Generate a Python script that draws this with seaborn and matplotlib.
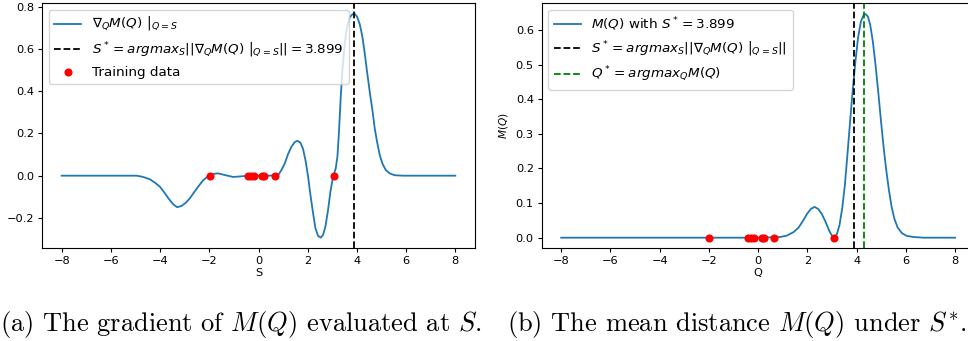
import matplotlib
matplotlib.use("Agg")
import matplotlib.pyplot as plt
import seaborn as sns

# ---- data ----
grad_x = [-8.0, -6.0, -4.955, -4.687, -4.415, -4.212, -4.009, -3.806, -3.630, -3.468,
          -3.306, -3.128, -2.953, -2.790, -2.628, -2.452, -2.275, -2.112, -1.909, -1.64,
          -1.369, -1.03, -0.69, -0.353, 0.4, 0.797, 0.933, 1.068, 1.204, 1.339, 1.474,
          1.583, 1.705, 1.813, 1.921, 2.016, 2.111, 2.219, 2.314, 2.422, 2.530, 2.625,
          2.720, 2.828, 2.923, 3.031, 3.140, 3.208, 3.275, 3.343, 3.411, 3.505, 3.600,
          3.708, 3.817, 3.911, 4.006, 4.115, 4.223, 4.318, 4.412, 4.521, 4.629, 4.724,
          4.818, 4.927, 5.035, 5.171, 5.333, 5.536, 5.87, 8.0]
grad_y = [0.0, 0.0, 0.0, -0.006, -0.017, -0.033, -0.052, -0.083, -0.112, -0.135,
          -0.149, -0.143, -0.128, -0.107, -0.080, -0.052, -0.025, -0.008, 0.007, 0.011,
          0.003, -0.006, -0.003, 0.0, 0.0, 0.002, 0.027, 0.058, 0.103, 0.137, 0.159,
          0.165, 0.156, 0.126, 0.066, -0.005, -0.091, -0.178, -0.249, -0.285, -0.293, -0.280,
          -0.241, -0.162, -0.076, -0.005, 0.035, 0.090, 0.216, 0.374, 0.500, 0.626, 0.705,
          0.749, 0.763, 0.765, 0.752, 0.717, 0.657, 0.579, 0.492, 0.397, 0.311, 0.224,
          0.161, 0.098, 0.058, 0.027, 0.011, 0.002, 0.0, 0.0]

m_x = [-8.0, -4.0, 0.0, 0.894, 1.165, 1.435, 1.638, 1.814, 1.977, 2.139, 2.288, 2.437,
       2.586, 2.735, 2.884, 2.992, 3.087, 3.195, 3.303, 3.412, 3.520, 3.628, 3.737,
       3.845, 3.953, 4.062, 4.170, 4.278, 4.359, 4.454, 4.549, 4.657, 4.765, 4.874,
       4.982, 5.091, 5.199, 5.307, 5.416, 5.524, 5.659, 5.835, 6.038, 6.309, 6.71, 8.0]
m_y = [0.0, 0.0, 0.0, 0.002, 0.006, 0.016, 0.029, 0.048, 0.068, 0.083, 0.089, 0.083,
       0.068, 0.046, 0.020, 0.006, 0.001, 0.010, 0.037, 0.085, 0.152, 0.244, 0.340,
       0.432, 0.513, 0.581, 0.624, 0.643, 0.646, 0.639, 0.615, 0.566, 0.499, 0.422,
       0.340, 0.263, 0.196, 0.138, 0.090, 0.056, 0.030, 0.013, 0.005, 0.002, 0.0, 0.0]

train_x = [-1.98, -0.42, -0.30, -0.17, 0.15, 0.23, 0.66, 3.06]
train_y = [0.0, 0.0, 0.0, 0.0, 0.0, 0.0, 0.0, 0.0]

s_star = 3.899
q_star = 4.31

x_ticks = [-8, -6, -4, -2, 0, 2, 4, 6, 8]

# ---- figure ----
W, H = 968, 341
fig = plt.figure(figsize=(W / 100, H / 100), dpi=100)

bottom = (H - 248) / H
height = (248 - 3) / H
ax1 = fig.add_axes([42 / W, bottom, 433 / W, height])
ax2 = fig.add_axes([541.5 / W, bottom, 433.4 / W, height])

tick_fs = 8.2
leg_fs = 9.7
blue = "#1f77b4"
dot_s = 34

# left panel
sns.lineplot(x=grad_x, y=grad_y, ax=ax1, color=blue, linewidth=1.3, estimator=None,
             label=r"$\left.\nabla_Q M(Q)\ \right|_{Q=S}$")
ax1.axvline(s_star, color="black", linestyle="--", linewidth=1.3,
            label=r"$S^* = argmax_S||\left.\nabla_Q M(Q)\ \right|_{Q=S}|| = 3.899$")
sns.scatterplot(x=train_x, y=train_y, ax=ax1, color="red", s=dot_s, linewidth=0,
                label="Training data", zorder=3)
ax1.set_xlim(-8.8, 8.8)
ax1.set_ylim(-0.342, 0.8166)
ax1.set_xticks(x_ticks)
ax1.set_xlabel("S", fontsize=tick_fs, labelpad=2)
ax1.set_ylabel("")
ax1.tick_params(labelsize=tick_fs, length=3, pad=2.5)
ax1.legend(loc="upper left", fontsize=leg_fs, handlelength=2.0)

# right panel
sns.lineplot(x=m_x, y=m_y, ax=ax2, color=blue, linewidth=1.3, estimator=None,
             label=r"$M(Q)$ with $S^* = 3.899$")
ax2.axvline(s_star, color="black", linestyle="--", linewidth=1.3,
            label=r"$S^* = argmax_S||\left.\nabla_Q M(Q)\ \right|_{Q=S}||$")
ax2.axvline(q_star, color="green", linestyle="--", linewidth=1.3,
            label=r"$Q^* = argmax_Q M(Q)$")
sns.scatterplot(x=train_x, y=train_y, ax=ax2, color="red", s=dot_s, linewidth=0, zorder=3)
ax2.set_xlim(-8.8, 8.8)
ax2.set_ylim(-0.0298, 0.678)
ax2.set_xticks(x_ticks)
ax2.set_xlabel("Q", fontsize=tick_fs, labelpad=2)
ax2.set_ylabel(r"$M(Q)$", fontsize=tick_fs - 0.6, labelpad=4)
ax2.tick_params(labelsize=tick_fs, length=3, pad=2.5)
ax2.legend(loc="upper left", fontsize=leg_fs, handlelength=2.0)

# captions
cap_fs = 19.0
cap_y = 9.5 / H
fig.text(0.0, cap_y, r"(a) The gradient of $M(Q)$ evaluated at $S$.",
         fontfamily="cmr10", math_fontfamily="cm", fontsize=cap_fs, va="baseline", ha="left")
fig.text(507 / W, cap_y, r"(b) The mean distance $M(Q)$ under $S^{*}$.",
         fontfamily="cmr10", math_fontfamily="cm", fontsize=cap_fs, va="baseline", ha="left")

fig.savefig("out.png", dpi=100)
